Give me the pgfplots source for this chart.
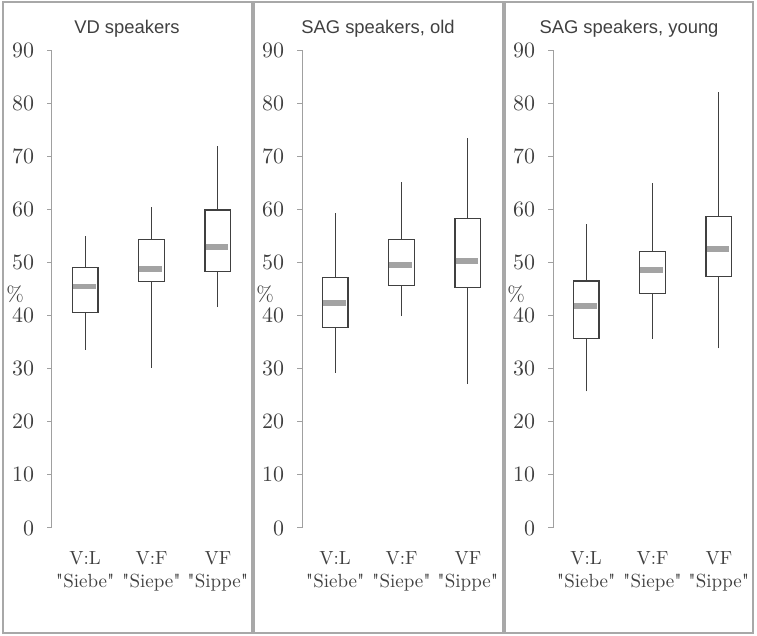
\documentclass[border=0pt]{standalone}
\usepackage{fontspec}
\usepackage{pgfplots}
\pgfplotsset{compat=1.18}
\newfontfamily\arialf{Liberation Sans}
\newfontfamily\qfont{Latin Modern Roman}
\newcommand\qq{{\qfont\symbol{"22}}}
\definecolor{boxc}{HTML}{404040}
\definecolor{axgray}{HTML}{A0A0A0}
\definecolor{txtc}{HTML}{404040}
\definecolor{medc}{HTML}{A3A3A3}
\definecolor{framec}{HTML}{A8A8A8}
% one box: position, lower whisker, lower quartile, median, upper quartile, upper whisker
\newcommand\bx[6]{%
  \pgfmathsetmacro\xl{#1-0.195}\pgfmathsetmacro\xr{#1+0.195}%
  \pgfmathsetmacro\ml{#1-0.185}\pgfmathsetmacro\mr{#1+0.16}%
  \addplot[boxc, line width=0.65pt] coordinates {(#1,#2) (#1,#3)};
  \addplot[boxc, line width=0.65pt] coordinates {(#1,#5) (#1,#6)};
  \addplot[boxc, line width=0.65pt, fill=white, line join=miter] coordinates {(\xl,#3) (\xr,#3) (\xr,#5) (\xl,#5)} -- cycle;
  \addplot[medc, line width=2.8pt] coordinates {(\ml,#4) (\mr,#4)};
}
\pgfplotsset{
  panel/.style={
    anchor=south west,
    scale only axis, width=99.5pt, height=239pt,
    xmin=-0.5, xmax=2.5, ymin=0, ymax=90,
    ytick={0,10,...,90},
    xtick={0,1,2},
    xticklabels={{V:L\\\qq Siebe\qq},{V:F\\\qq Siepe\qq},{VF\\\qq Sippe\qq}},
    axis x line*=bottom, axis y line*=left,
    x axis line style={draw=none},
    y axis line style={-, draw=axgray, line width=0.5pt},
    xtick style={draw=none},
    ytick style={draw=axgray, line width=0.5pt},
    tick align=outside, major tick length=2.4pt,
    yticklabel style={font=\fontsize{10.5}{12}\selectfont, text=txtc, xshift=-3pt},
    xticklabel style={font=\fontsize{9.5}{11.5}\selectfont, text=txtc, align=center, yshift=-6pt},
    ylabel={\%},
    ylabel style={rotate=-90, at={(axis description cs:-0.185,0.49)}, anchor=center, font=\fontsize{10.5}{11}\selectfont, text=txtc},
    clip=false,
  },
}
\begin{document}
\begin{tikzpicture}
\path[use as bounding box] (0,0) rectangle (378.5pt,318pt);
\draw[framec, line width=1pt] (1.25pt,1.5pt) rectangle (125.75pt,317.15pt);
\draw[framec, line width=1pt] (126.75pt,1.5pt) rectangle (251.5pt,317.15pt);
\draw[framec, line width=1pt] (252.5pt,1.5pt) rectangle (376.5pt,317.15pt);

% VD speakers
\begin{axis}[panel, at={(26pt,54pt)}]
\bx{0}{33.6}{40.6}{45.5}{49.0}{54.9}
\bx{1}{30.2}{46.4}{48.8}{54.3}{60.4}
\bx{2}{41.6}{48.3}{52.9}{59.9}{71.9}
\end{axis}

% SAG speakers, old
\begin{axis}[panel, at={(151pt,54pt)}]
\bx{0}{29.2}{37.8}{42.4}{47.1}{59.4}
\bx{1}{39.9}{45.6}{49.5}{54.3}{65.2}
\bx{2}{27.1}{45.3}{50.3}{58.3}{73.5}
\end{axis}

% SAG speakers, young
\begin{axis}[panel, at={(276.5pt,54pt)}]
\bx{0}{25.7}{35.7}{41.8}{46.5}{57.2}
\bx{1}{35.6}{44.2}{48.6}{52.0}{64.9}
\bx{2}{33.8}{47.4}{52.5}{58.6}{82.0}
\end{axis}

\node[anchor=base, font=\arialf\fontsize{9.2}{11}\selectfont, text=txtc] at (63.5pt,301pt) {VD speakers};
\node[anchor=base, font=\arialf\fontsize{9.2}{11}\selectfont, text=txtc] at (189pt,301pt) {SAG speakers, old};
\node[anchor=base, font=\arialf\fontsize{9.2}{11}\selectfont, text=txtc] at (314.5pt,301pt) {SAG speakers, young};
\end{tikzpicture}
\end{document}
